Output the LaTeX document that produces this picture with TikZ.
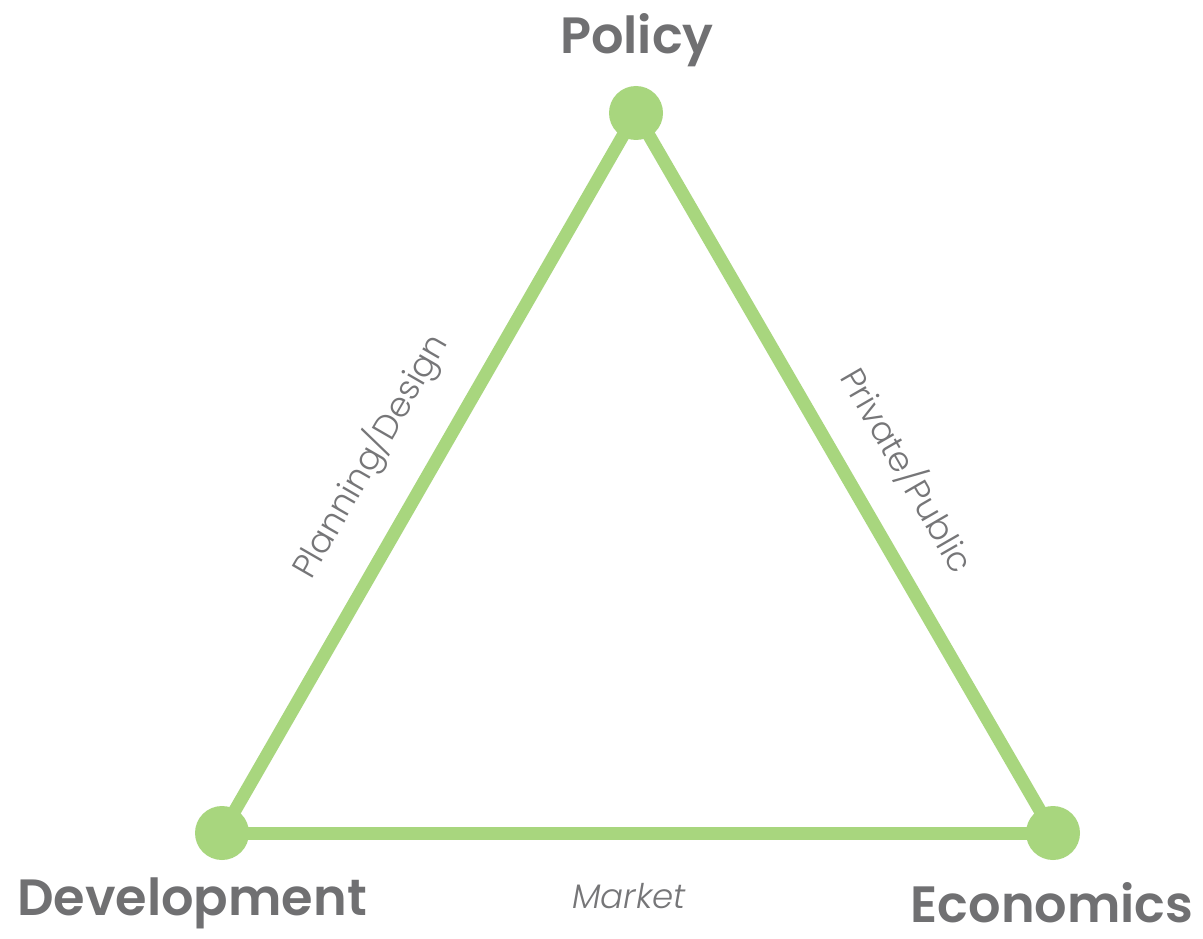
\documentclass[tikz,border=0pt]{standalone}
\usepackage{fontspec}
\setmainfont{Poppins}
\newfontfamily\poppinsbold{Poppins SemiBold}
\newfontfamily\poppinslight{Poppins Light}
\usetikzlibrary{positioning}
\definecolor{tgreen}{RGB}{168,214,126}
\definecolor{tgray}{RGB}{112,112,114}
\definecolor{lgray}{RGB}{118,118,120}
\tikzset{
  vertexdot/.style={circle, fill=tgreen, minimum size=54pt, inner sep=0pt},
  edgeline/.style={draw=tgreen, line width=13pt},
  bigtitle/.style={text=tgray, font=\poppinsbold\fontsize{51}{55}\selectfont, inner sep=0pt},
  edgelabel/.style={text=lgray, font=\poppinslight\fontsize{34}{38}\selectfont, inner sep=0pt}
}
\begin{document}
\begin{tikzpicture}[x=1pt,y=-1pt]
\useasboundingbox (0,0) rectangle (1203,939);
\fill[white] (0,0) rectangle (1203,939);
\node[vertexdot] (pol) at (636,113) {};
\node[vertexdot] (dev) at (222,833) {};
\node[vertexdot] (eco) at (1053,833) {};
\draw[edgeline] (pol.center) -- (dev.center);
\draw[edgeline] (pol.center) -- (eco.center);
\draw[edgeline] (dev.center) -- (eco.center);
\node[bigtitle] (tpol) at (637,40) {Policy};
\node[bigtitle] (tdev) at (192,903) {Development};
\node[bigtitle] (teco) at (1052,903) {Economics};
\node[edgelabel, rotate=60] (lpd) at (370,456) {Planning/Design};
\node[edgelabel, rotate=-60] (lpp) at (908,470) {Private/Public};
\node[edgelabel, font=\poppinslight\itshape\fontsize{34}{38}\selectfont] (lmk) at (629,896) {Market};
\end{tikzpicture}
\end{document}
